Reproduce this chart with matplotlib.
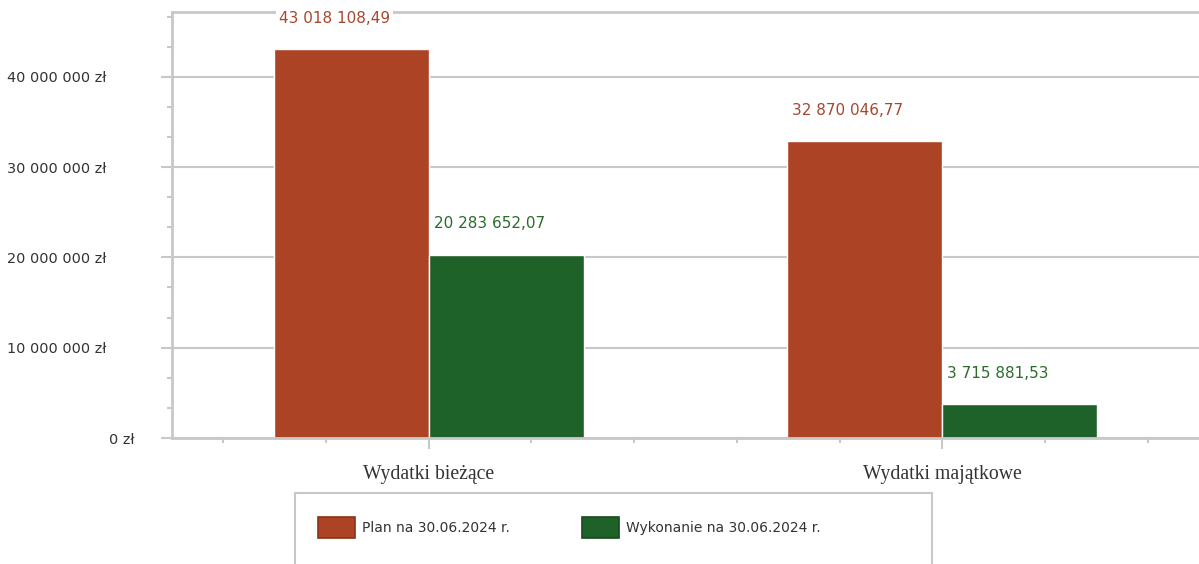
import matplotlib.pyplot as plt
from matplotlib.patches import Rectangle
from matplotlib.ticker import MultipleLocator, FuncFormatter
from matplotlib.transforms import ScaledTranslation

categories = ["Wydatki bieżące", "Wydatki majątkowe"]
plan = [43018108.49, 32870046.77]
wykonanie = [20283652.07, 3715881.53]
series_names = ["Plan na 30.06.2024 r.", "Wykonanie na 30.06.2024 r."]

RED = "#ad4325"
GREEN = "#1e622a"
GRID = "#c8c8c8"
TXT = "#333333"


def pl_number(v, dec=2):
    s = f"{v:,.{dec}f}"
    return s.replace(",", " ").replace(".", ",")


fig = plt.figure(figsize=(11.99, 5.64), dpi=100)
ax = fig.add_axes([172 / 1199, 1 - 438 / 564, 1 - 172 / 1199, (438 - 11.7) / 564])

x = list(range(len(categories)))
w = 0.302
b1 = ax.bar([i - w / 2 for i in x], plan, w, color=RED, edgecolor="white", linewidth=1, label=series_names[0])
b2 = ax.bar([i + w / 2 for i in x], wykonanie, w, color=GREEN, edgecolor="white", linewidth=1, label=series_names[1])

# etykiety wartości nad słupkami (biały podkład przerywa górną ramkę)
for bars, vals, col in [(b1, plan, "#a8472d"), (b2, wykonanie, "#2b6b2c")]:
    for rect, v in zip(bars, vals):
        ax.annotate(pl_number(v), xy=(rect.get_x(), v), xytext=(5, 31), textcoords="offset pixels",
                    ha="left", va="center", fontsize=11, color=col,
                    bbox=dict(boxstyle="square,pad=0.2", fc="white", ec="none"))

ax.set_xlim(-0.5, 1.5)
ax.set_ylim(0, 47.2e6)

ax.yaxis.set_major_locator(MultipleLocator(10e6))
ax.yaxis.set_minor_locator(MultipleLocator(10e6 / 3))
ax.yaxis.set_major_formatter(FuncFormatter(lambda v, p: pl_number(v, 0) + " zł"))
ax.set_xticks(x)
ax.set_xticklabels(categories, fontfamily="Liberation Serif", fontsize=14.2, color=TXT)
ax.xaxis.set_minor_locator(MultipleLocator(0.2))

ax.grid(axis="y", which="major", color=GRID, linewidth=1.5)
ax.set_axisbelow(True)

for s in ["left", "bottom", "top"]:
    ax.spines[s].set_color(GRID)
    ax.spines[s].set_linewidth(2)
ax.spines["right"].set_visible(False)

ax.tick_params(axis="both", which="major", length=8, width=1.5, color=GRID)
ax.tick_params(axis="both", which="minor", length=3.6, width=1.5, color=GRID)
ax.tick_params(axis="y", which="major", pad=39, labelsize=10.4, labelcolor=TXT)
ax.tick_params(axis="x", which="major", pad=11.5)

fig.canvas.draw()
for lab in ax.get_yticklabels():
    if lab.get_text() == "0 zł":
        lab.set_transform(lab.get_transform() + ScaledTranslation(28 / 100, 0, fig.dpi_scale_trans))

# ramka legendy (dół ucięty krawędzią obrazka)
fig.patches.append(Rectangle((295 / 1199, -0.05), (932 - 295) / 1199, 0.05 + 1 - 493 / 564,
                             transform=fig.transFigure, fill=False, ec=GRID, lw=1.5))

h1 = Rectangle((0, 0), 1, 1, fc=RED, ec="#8a3319", lw=1.2)
h2 = Rectangle((0, 0), 1, 1, fc=GREEN, ec="#16491f", lw=1.2)
fig.legend([h1, h2], series_names, loc="upper left", bbox_to_anchor=(318 / 1199, 1 - 517 / 564),
           ncol=2, frameon=False, fontsize=10, borderpad=0, borderaxespad=0,
           handlelength=2.66, handleheight=2.0, handletextpad=0.5, columnspacing=5.2,
           labelcolor=TXT)

fig.savefig("out.png", dpi=100)
